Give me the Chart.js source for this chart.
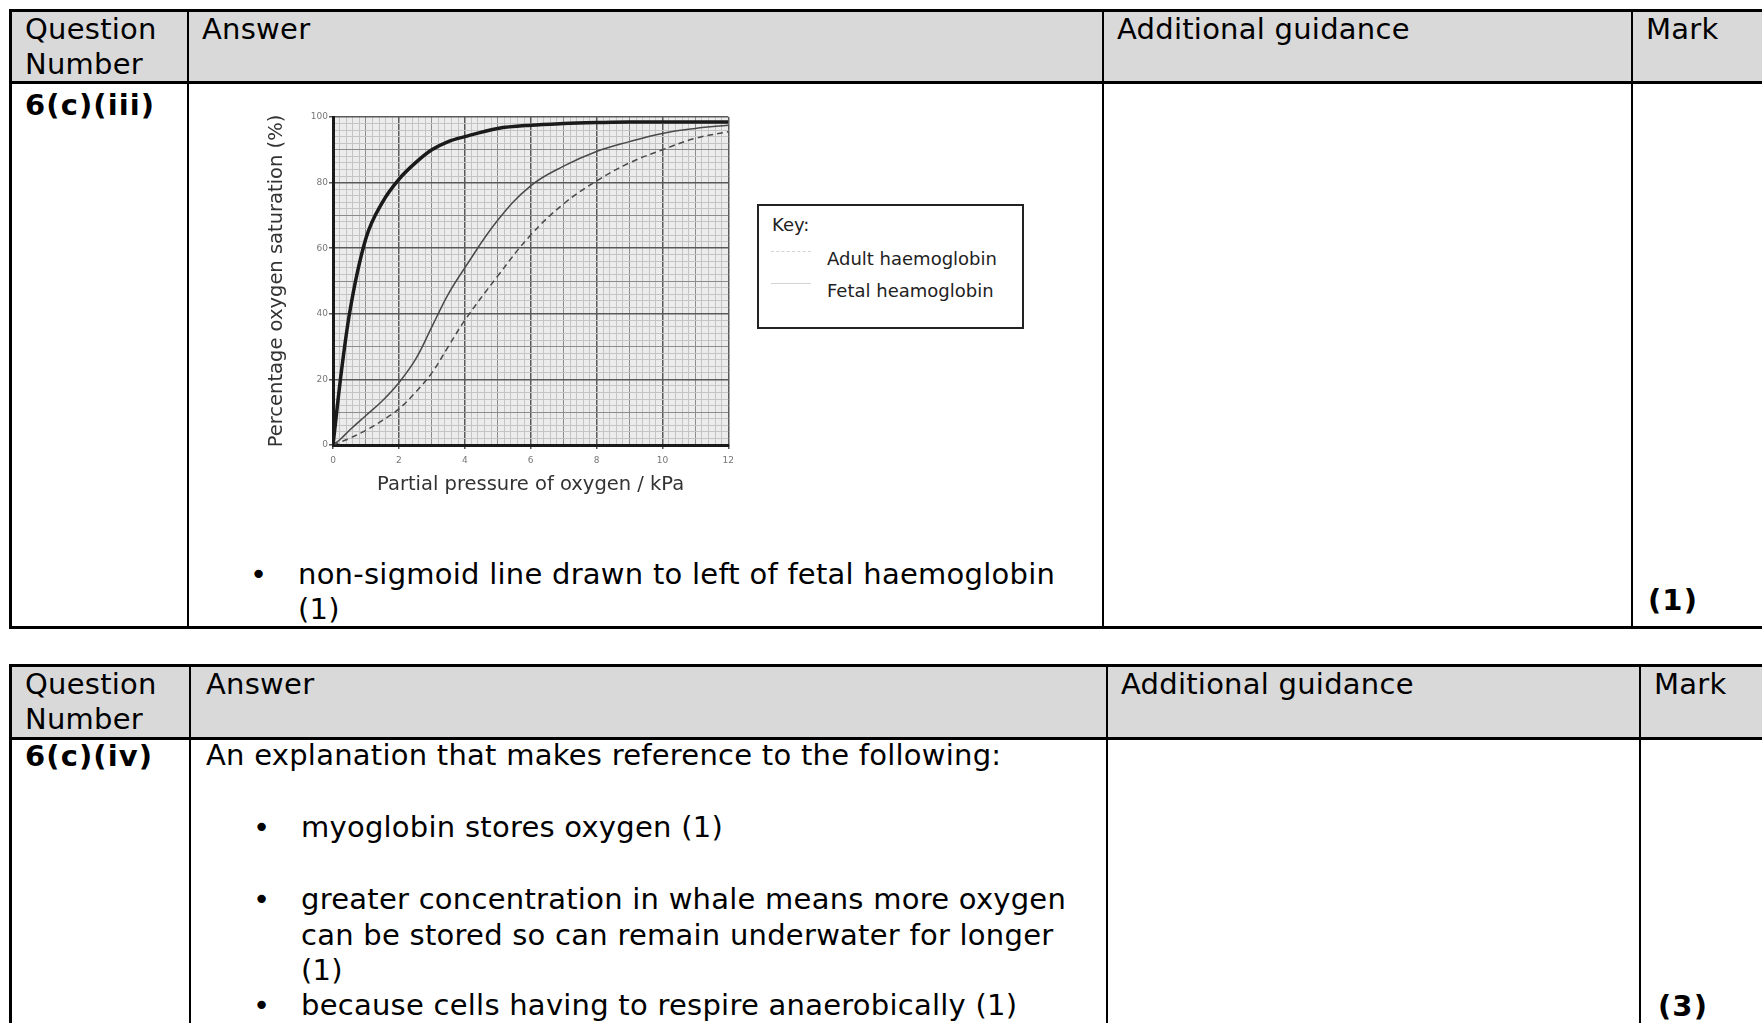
<!DOCTYPE html>
<html>
<head>
<meta charset="utf-8">
<script src="https://cdn.jsdelivr.net/npm/chart.js@4.4.1/dist/chart.umd.min.js"></script>
<style>
  html, body { margin: 0; padding: 0; background: #fff; }
  body { width: 1762px; height: 1023px; position: relative; overflow: hidden;
         font-family: "DejaVu Sans", Verdana, sans-serif; font-size: 29px; color: #000; }
  .t { position: absolute; line-height: 35px; white-space: nowrap; letter-spacing: 0.25px; }
  .b { font-weight: bold; letter-spacing: 1.1px; }
  .ln { position: absolute; background: #000; }
  .hdr { position: absolute; background: #d9d9d9; }
  #plotBox { position: absolute; left: 240px; top: 100px; width: 500px; height: 400px; }
  #key { position: absolute; left: 757px; top: 204px; width: 263px; height: 121px;
         border: 2px solid #222; background: #fff; font-size: 18px; color: #222; }
  #key .k { position: absolute; white-space: nowrap; line-height: 22px; }
  #key .sw { position: absolute; left: 12px; width: 40px; height: 0; }
</style>
</head>
<body>

<!-- table 1 -->
<div class="hdr" style="left:11px;top:11px;width:1760px;height:71px"></div>
<div class="ln" style="left:9px;top:9px;width:1760px;height:3px"></div>
<div class="ln" style="left:9px;top:81px;width:1760px;height:3px"></div>
<div class="ln" style="left:9px;top:626px;width:1760px;height:3px"></div>
<div class="ln" style="left:9px;top:9px;width:3px;height:620px"></div>
<div class="ln" style="left:187px;top:9px;width:2px;height:620px"></div>
<div class="ln" style="left:1102px;top:9px;width:2px;height:620px"></div>
<div class="ln" style="left:1631px;top:9px;width:2px;height:620px"></div>

<div class="t" style="left:25px;top:12px">Question</div>
<div class="t" style="left:25px;top:47px">Number</div>
<div class="t" style="left:202px;top:12px">Answer</div>
<div class="t" style="left:1117px;top:12px">Additional guidance</div>
<div class="t" style="left:1646px;top:12px">Mark</div>
<div class="t b" style="left:25px;top:88px">6(c)(iii)</div>

<div class="t" style="left:250px;top:557px">•</div>
<div class="t" style="left:298px;top:557px">non-sigmoid line drawn to left of fetal haemoglobin</div>
<div class="t" style="left:298px;top:592px">(1)</div>
<div class="t b" style="left:1648px;top:583px">(1)</div>

<div id="plotBox"><canvas id="oxyChart" width="500" height="400"></canvas></div>

<div id="key">
  <div class="k" style="left:13px;top:8px">Key:</div>
  <div class="sw" style="top:45px;border-top:1.5px dashed #d4d4d4"></div>
  <div class="k" style="left:68px;top:42px">Adult haemoglobin</div>
  <div class="sw" style="top:77px;border-top:1.5px solid #d4d4d4"></div>
  <div class="k" style="left:68px;top:74px">Fetal heamoglobin</div>
</div>

<!-- table 2 -->
<div class="hdr" style="left:11px;top:666px;width:1760px;height:71px"></div>
<div class="ln" style="left:9px;top:664px;width:1760px;height:3px"></div>
<div class="ln" style="left:9px;top:737px;width:1760px;height:3px"></div>
<div class="ln" style="left:9px;top:664px;width:3px;height:400px"></div>
<div class="ln" style="left:189px;top:664px;width:2px;height:400px"></div>
<div class="ln" style="left:1106px;top:664px;width:2px;height:400px"></div>
<div class="ln" style="left:1639px;top:664px;width:2px;height:400px"></div>

<div class="t" style="left:25px;top:667px">Question</div>
<div class="t" style="left:25px;top:702px">Number</div>
<div class="t" style="left:206px;top:667px">Answer</div>
<div class="t" style="left:1121px;top:667px">Additional guidance</div>
<div class="t" style="left:1654px;top:667px">Mark</div>
<div class="t b" style="left:25px;top:739px">6(c)(iv)</div>
<div class="t" style="left:206px;top:738px">An explanation that makes reference to the following:</div>

<div class="t" style="left:253px;top:810px">•</div>
<div class="t" style="left:301px;top:810px">myoglobin stores oxygen (1)</div>
<div class="t" style="left:253px;top:882px">•</div>
<div class="t" style="left:301px;top:882px">greater concentration in whale means more oxygen</div>
<div class="t" style="left:301px;top:918px">can be stored so can remain underwater for longer</div>
<div class="t" style="left:301px;top:953px">(1)</div>
<div class="t" style="left:253px;top:988px">•</div>
<div class="t" style="left:301px;top:988px">because cells having to respire anaerobically (1)</div>
<div class="t b" style="left:1658px;top:989px">(3)</div>

<script>
// values (kPa -> % saturation)
const pressureKPa = [0, 0.25, 0.5, 1, 1.5, 2, 2.5, 3, 3.5, 4, 5, 6, 7, 8, 9, 10, 11, 12];
const drawnCurve  = [0, 22, 40, 63, 74, 81, 86, 90, 92.5, 94, 96.5, 97.5, 98, 98.3, 98.5, 98.5, 98.5, 98.5];
const fetalHb     = [0, 2, 4.5, 9, 13.5, 19, 26, 36, 46, 54, 68.5, 79, 85, 89.5, 92.5, 95, 96.5, 97.5];
const adultHb     = [0, 1, 2, 4.5, 7.5, 11, 16, 22, 30, 38, 51.5, 64, 73.5, 80.5, 86, 90, 93.5, 95.5];

const xTickLabels = ['0', '2', '4', '6', '8', '10', '12'];
const yTickLabels = ['0', '20', '40', '60', '80', '100'];

const FONT = '"DejaVu Sans", Verdana, sans-serif';

function toPoints(ys) {
    return pressureKPa.map((x, i) => ({ x: x, y: ys[i] }));
}

function isMultiple(v, step) {
    const r = v / step;
    return Math.abs(r - Math.round(r)) < 1e-6;
}

// graph paper: dark every major step, medium every half, light otherwise
function gridColour(major) {
    return function (ctx) {
        if (!ctx.tick) return '#c4c4c4';
        const v = ctx.tick.value;
        if (isMultiple(v, major)) return '#5a5a5a';
        if (isMultiple(v, major / 2)) return '#8c8c8c';
        return '#c4c4c4';
    };
}
function gridWidth(major) {
    return function (ctx) {
        if (!ctx.tick) return 1;
        return isMultiple(ctx.tick.value, major) ? 1.5 : 1;
    };
}
function tickMarkColour(major) {
    return function (ctx) {
        if (!ctx.tick) return 'rgba(0,0,0,0)';
        return isMultiple(ctx.tick.value, major) ? '#555' : 'rgba(0,0,0,0)';
    };
}

const plotBackground = {
    id: 'plotBackground',
    beforeDraw(chart) {
        const { ctx, chartArea: a } = chart;
        ctx.save();
        ctx.fillStyle = '#ececec';
        ctx.fillRect(a.left, a.top, a.right - a.left, a.bottom - a.top);
        ctx.restore();
    }
};

new Chart(document.getElementById('oxyChart').getContext('2d'), {
    type: 'line',
    data: {
        datasets: [
            {
                label: 'Drawn answer',
                data: toPoints(drawnCurve),
                borderColor: '#1a1a1a',
                borderWidth: 3.5,
                pointRadius: 0,
                cubicInterpolationMode: 'monotone'
            },
            {
                label: 'Fetal heamoglobin',
                data: toPoints(fetalHb),
                borderColor: '#4a4a4a',
                borderWidth: 1.5,
                pointRadius: 0,
                tension: 0.4
            },
            {
                label: 'Adult haemoglobin',
                data: toPoints(adultHb),
                borderColor: '#4a4a4a',
                borderWidth: 1.5,
                borderDash: [6, 4],
                pointRadius: 0,
                tension: 0.4
            }
        ]
    },
    options: {
        responsive: false,
        animation: false,
        devicePixelRatio: 1,
        layout: { padding: { left: 0, right: 11, top: 17, bottom: 0 } },
        plugins: {
            legend: { display: false },
            tooltip: { enabled: false }
        },
        scales: {
            x: {
                type: 'linear',
                min: 0,
                max: 12,
                afterFit: function (scale) { scale.height = 55; },
                ticks: {
                    stepSize: 0.2,
                    autoSkip: false,
                    maxRotation: 0,
                    padding: 6,
                    color: '#777',
                    font: { family: FONT, size: 9 },
                    callback: function (v) {
                        return isMultiple(v, 2) ? xTickLabels[Math.round(v / 2)] : '';
                    }
                },
                grid: {
                    color: gridColour(2),
                    lineWidth: gridWidth(2),
                    tickLength: 4,
                    tickColor: tickMarkColour(2)
                },
                border: { display: true, color: '#1a1a1a', width: 3 },
                title: {
                    display: true,
                    text: 'Partial pressure of oxygen / kPa',
                    color: '#333',
                    font: { family: FONT, size: 19.5 },
                    padding: { top: 0, bottom: 3 }
                }
            },
            y: {
                min: 0,
                max: 100,
                afterFit: function (scale) { scale.width = 93; },
                ticks: {
                    stepSize: 2,
                    autoSkip: false,
                    padding: 1,
                    color: '#777',
                    font: { family: FONT, size: 9 },
                    callback: function (v) {
                        return isMultiple(v, 20) ? yTickLabels[Math.round(v / 20)] : '';
                    }
                },
                grid: {
                    color: gridColour(20),
                    lineWidth: gridWidth(20),
                    tickLength: 4,
                    tickColor: tickMarkColour(20)
                },
                border: { display: true, color: '#1a1a1a', width: 3 },
                title: {
                    display: true,
                    text: 'Percentage oxygen saturation (%)',
                    color: '#333',
                    font: { family: FONT, size: 19.5 },
                    padding: { top: 25, bottom: 0 }
                }
            }
        }
    },
    plugins: [plotBackground]
});
</script>
</body>
</html>
